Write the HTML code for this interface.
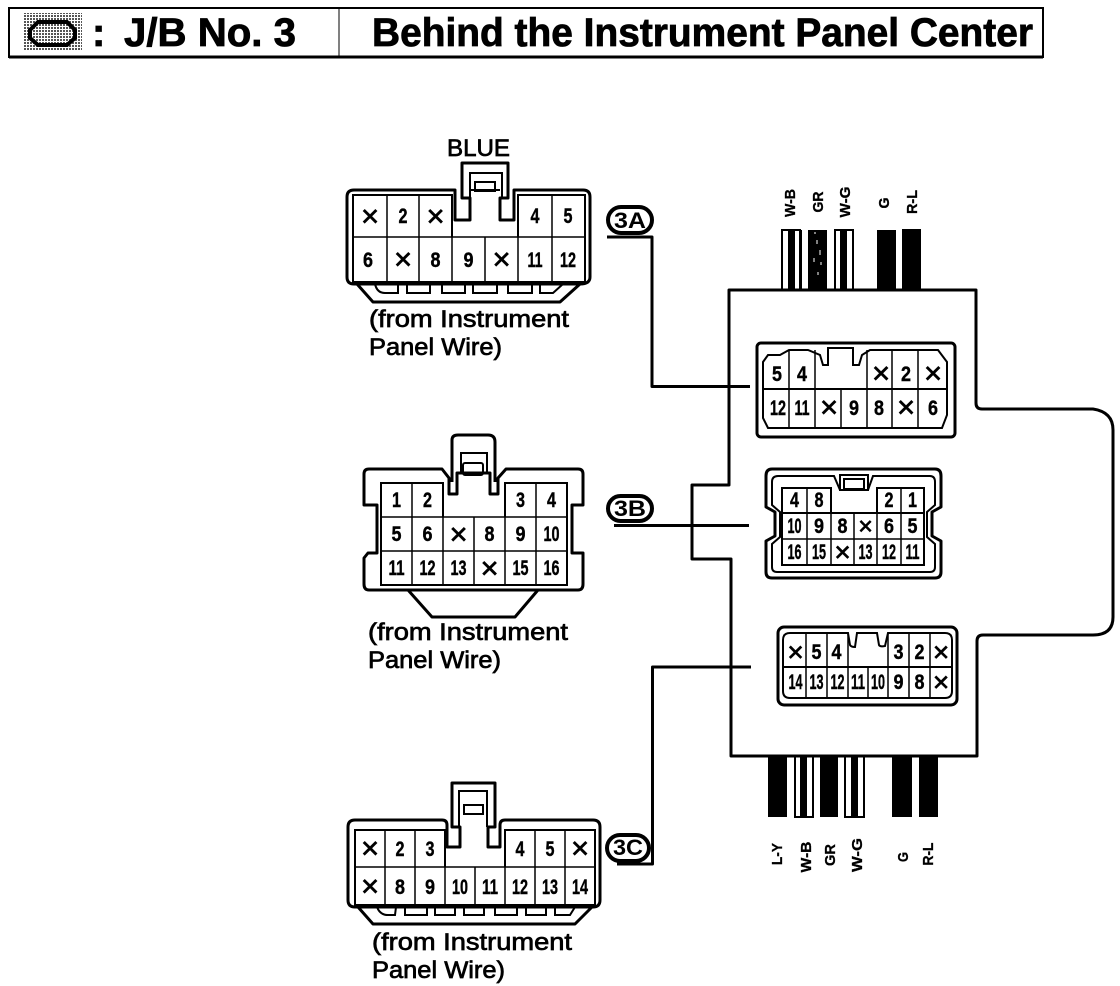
<!DOCTYPE html>
<html><head><meta charset="utf-8"><title>J/B No. 3</title>
<style>
html,body{margin:0;padding:0;background:#fff}
svg{display:block}
.l{fill:none;stroke:#000;stroke-width:3;stroke-linejoin:round}
.m{fill:none;stroke:#000;stroke-width:2}
.t{fill:none;stroke:#000;stroke-width:1.5}
text{font-family:"Liberation Sans",sans-serif;fill:#000}
.d{font-weight:bold;font-size:21px;text-anchor:middle;stroke:#000;stroke-width:.4}
.x{font-size:31px;text-anchor:middle;stroke:#000;stroke-width:.7;transform:translateY(1.500px)}
.c{font-size:24px;stroke:#000;stroke-width:.7}
.o{font-weight:bold;font-size:22px;text-anchor:middle}
.w{font-weight:bold;font-size:15px;text-anchor:middle;stroke:#000;stroke-width:.3}
.h{font-weight:bold;font-size:40px;stroke:#000;stroke-width:.8}
</style></head><body>
<svg width="1120" height="986" viewBox="0 0 1120 986" xmlns="http://www.w3.org/2000/svg">
<defs><pattern id="hat" width="3" height="3" patternUnits="userSpaceOnUse"><rect width="3" height="3" fill="#fff"/><rect width="2" height="2" fill="#555"/></pattern></defs>

<!-- header -->
<rect x="9" y="8" width="1034" height="49" fill="none" stroke="#000" stroke-width="2"/>
<path d="M9 57H1043" stroke="#000" stroke-width="3"/>
<path d="M339 8V57" stroke="#000" stroke-width="1"/>
<rect x="24" y="13" width="58" height="38" fill="url(#hat)"/>
<path d="M38 22H67L75 30V38L67 45H38L30 38V30Z" fill="url(#hat)" stroke="#000" stroke-width="4"/>
<text class="h" x="92" y="46">:</text>
<text class="h" x="124" y="46" textLength="172" lengthAdjust="spacingAndGlyphs">J/B No. 3</text>
<text class="h" x="372" y="46" textLength="661" lengthAdjust="spacingAndGlyphs">Behind the Instrument Panel Center</text>

<!-- 3A connector -->
<text class="c" x="447" y="156" textLength="63" lengthAdjust="spacingAndGlyphs">BLUE</text>
<path class="l" d="M455 220V190H354Q347 190 347 197V277Q347 284 354 284H580Q590 284 590 277V197Q590 190 583 190H514V220H500V198H508V163H462V198H470V220Z"/>
<path class="m" d="M470 198V173H502V198"/>
<rect class="m" x="475" y="182" width="20" height="9"/>
<path class="m" d="M470 190H500"/>
<path class="l" d="M357 284L373 302H560L580 284"/>
<path class="m" d="M375 284Q377 293 385 293H398V284M407 284V293H430V284M442 284V293H465V284M473 284V293H497V284M508 284V293H532V284M540 284V293H553L563 284"/>
<path class="m" d="M353 237V195H452V237M518 237V195H585V237M353 237V282H585V237"/>
<path class="t" d="M353 237H585M387 195V282M419 195V282M452 237V282M485 237V282M518 237V282M552 195V282"/>
<text class="x" x="370" y="225">×</text><text class="d" x="403" y="223" textLength="9" lengthAdjust="spacingAndGlyphs">2</text><text class="x" x="435.500" y="225">×</text><text class="d" x="535" y="223" textLength="9" lengthAdjust="spacingAndGlyphs">4</text><text class="d" x="568" y="223" textLength="9" lengthAdjust="spacingAndGlyphs">5</text>
<text class="d" x="368" y="267" textLength="10" lengthAdjust="spacingAndGlyphs">6</text><text class="x" x="403" y="268">×</text><text class="d" x="435.500" y="267" textLength="10" lengthAdjust="spacingAndGlyphs">8</text><text class="d" x="468.500" y="267" textLength="10" lengthAdjust="spacingAndGlyphs">9</text><text class="x" x="501.500" y="268">×</text><text class="d" x="535" y="267" textLength="15" lengthAdjust="spacingAndGlyphs">11</text><text class="d" x="568" y="267" textLength="16" lengthAdjust="spacingAndGlyphs">12</text>
<text class="c" x="369" y="327" textLength="200" lengthAdjust="spacingAndGlyphs">(from Instrument</text>
<text class="c" x="369" y="355" textLength="133" lengthAdjust="spacingAndGlyphs">Panel Wire)</text>
<rect x="608" y="207" width="44" height="26" rx="13" fill="none" stroke="#000" stroke-width="4"/>
<text class="o" x="630" y="228" textLength="32" lengthAdjust="spacingAndGlyphs">3A</text>
<path class="l" d="M607 237H652V386.500H750"/>

<!-- 3B connector -->
<path class="l" d="M452 482V440Q452 435 458 435H488Q495 435 495 442V482"/>
<path class="l" d="M364 505V474Q364 469 369 469H442L449 478V494H457V473H490V494H498V478L506 469H578Q583 469 583 474V505H572V553H583V584Q583 590 578 590H369Q364 590 364 584V558L368 553H377V505Z"/>
<path class="m" d="M461 473V453H487V473"/>
<rect class="m" x="463" y="463" width="20" height="12" rx="2"/>
<path class="l" d="M408 590L432 617H515L538 590"/>
<path class="m" d="M381 517V483H443V517M505 517V483H567V517M381 517V585H567V517"/>
<path class="t" d="M381 517H567M381 551H567M412 483V585M443 517V585M474 517V585M505 517V585M536 483V585"/>
<text class="d" x="396.500" y="507" textLength="9" lengthAdjust="spacingAndGlyphs">1</text><text class="d" x="427.500" y="507" textLength="9" lengthAdjust="spacingAndGlyphs">2</text><text class="d" x="520.500" y="507" textLength="9" lengthAdjust="spacingAndGlyphs">3</text><text class="d" x="551.500" y="507" textLength="9" lengthAdjust="spacingAndGlyphs">4</text>
<text class="d" x="396.500" y="541" textLength="10" lengthAdjust="spacingAndGlyphs">5</text><text class="d" x="427.500" y="541" textLength="10" lengthAdjust="spacingAndGlyphs">6</text><text class="x" x="458.500" y="543">×</text><text class="d" x="489.500" y="541" textLength="10" lengthAdjust="spacingAndGlyphs">8</text><text class="d" x="520.500" y="541" textLength="10" lengthAdjust="spacingAndGlyphs">9</text><text class="d" x="551.500" y="541" textLength="16" lengthAdjust="spacingAndGlyphs">10</text>
<text class="d" x="396.500" y="575" textLength="16" lengthAdjust="spacingAndGlyphs">11</text><text class="d" x="427.500" y="575" textLength="16" lengthAdjust="spacingAndGlyphs">12</text><text class="d" x="458.500" y="575" textLength="16" lengthAdjust="spacingAndGlyphs">13</text><text class="x" x="489.500" y="577">×</text><text class="d" x="520.500" y="575" textLength="16" lengthAdjust="spacingAndGlyphs">15</text><text class="d" x="551.500" y="575" textLength="16" lengthAdjust="spacingAndGlyphs">16</text>
<text class="c" x="368" y="640" textLength="200" lengthAdjust="spacingAndGlyphs">(from Instrument</text>
<text class="c" x="368" y="668" textLength="133" lengthAdjust="spacingAndGlyphs">Panel Wire)</text>
<rect x="608" y="496" width="44" height="25" rx="12.500" fill="none" stroke="#000" stroke-width="4"/>
<text class="o" x="630" y="516" textLength="32" lengthAdjust="spacingAndGlyphs">3B</text>
<path class="l" d="M614 525.500H749"/>

<!-- 3C connector -->
<path class="l" d="M447 847V825Q447 820 442 820H355Q348 820 348 827V900Q348 907 355 907H593Q600 907 600 900V827Q600 820 593 820H505Q500 820 500 825V847H488V827H495V783H452V827H460V847Z"/>
<path class="m" d="M459 827V791H487V827"/>
<rect class="m" x="464" y="805" width="19" height="9"/>
<path class="l" d="M358 907L373 924H575L592 907"/>
<path class="m" d="M377 907Q380 915 388 915H395L396 907M405 907V915H427V907M435 907V915H455V907M464 907V915H484V907M495 907V915H517V907M526 907V915H546V907M555 907V915H570L575 907"/>
<path class="m" d="M355 867V830H445V867M505 867V830H595V867M355 867V905H595V867"/>
<path class="t" d="M355 867H595M385 830V905M415 830V905M445 867V905M475 867V905M505 867V905M535 830V905M565 830V905"/>
<text class="x" x="370" y="857">×</text><text class="d" x="400" y="856" textLength="9" lengthAdjust="spacingAndGlyphs">2</text><text class="d" x="430" y="856" textLength="9" lengthAdjust="spacingAndGlyphs">3</text><text class="d" x="520" y="856" textLength="9" lengthAdjust="spacingAndGlyphs">4</text><text class="d" x="550" y="856" textLength="9" lengthAdjust="spacingAndGlyphs">5</text><text class="x" x="580" y="857">×</text>
<text class="x" x="370" y="895">×</text><text class="d" x="400" y="894" textLength="10" lengthAdjust="spacingAndGlyphs">8</text><text class="d" x="430" y="894" textLength="10" lengthAdjust="spacingAndGlyphs">9</text><text class="d" x="460" y="894" textLength="16" lengthAdjust="spacingAndGlyphs">10</text><text class="d" x="490" y="894" textLength="16" lengthAdjust="spacingAndGlyphs">11</text><text class="d" x="520" y="894" textLength="16" lengthAdjust="spacingAndGlyphs">12</text><text class="d" x="550" y="894" textLength="16" lengthAdjust="spacingAndGlyphs">13</text><text class="d" x="580" y="894" textLength="16" lengthAdjust="spacingAndGlyphs">14</text>
<text class="c" x="372" y="950" textLength="200" lengthAdjust="spacingAndGlyphs">(from Instrument</text>
<text class="c" x="372" y="978" textLength="133" lengthAdjust="spacingAndGlyphs">Panel Wire)</text>
<rect x="607" y="835" width="42" height="26" rx="13" fill="none" stroke="#000" stroke-width="4"/>
<text class="o" x="628" y="855" textLength="30" lengthAdjust="spacingAndGlyphs">3C</text>
<path class="l" d="M751 667H652.500V864H617"/>

<!-- top wires -->
<path class="m" d="M782 230H800V290H782Z"/><rect x="788" y="230" width="7" height="60"/><rect x="800" y="230" width="2" height="60"/>
<rect x="808" y="230" width="19" height="60"/>
<path d="M815 232v2M817 240v4M820 250v5M814 258v4M821 262v3M818 272v3" stroke="#fff" stroke-width="1"/>
<path class="m" d="M835 230H853V290H835Z"/><rect x="840" y="230" width="7" height="60"/>
<rect x="877" y="230" width="19" height="60"/>
<rect x="902" y="229" width="19" height="61"/>

<!-- bottom wires -->
<rect x="768" y="756" width="19" height="61"/>
<path class="m" d="M795 756V817H813V756"/><rect x="800" y="756" width="7" height="61"/>
<rect x="820" y="756" width="18" height="61"/>
<path class="m" d="M845 756V817H864V756"/><rect x="851" y="756" width="7" height="61"/>
<rect x="892" y="756" width="20" height="61"/>
<rect x="919" y="756" width="19" height="61"/>

<!-- main box -->
<path d="M729 290H976V403Q976 409 982 409H1093Q1113 412 1113 430V617Q1113 635 1093 635H983Q977 635 977 641V756H731V559H692V485H729Z" fill="#fff" stroke="none"/>
<path class="l" d="M729 485V290H976V403Q976 409 982 409H1093Q1113 412 1113 430V617Q1113 635 1093 635H983Q977 635 977 641V756H731V559H692V485Z"/>
<path class="l" d="M652 386.500H750M614 525.500H749M652.500 667H751"/>

<!-- wire labels -->
<g>
<text class="w" transform="translate(795 203) rotate(-90)" textLength="28" lengthAdjust="spacingAndGlyphs">W-B</text>
<text class="w" transform="translate(823 202) rotate(-90)" textLength="21" lengthAdjust="spacingAndGlyphs">GR</text>
<text class="w" transform="translate(850 202) rotate(-90)" textLength="31" lengthAdjust="spacingAndGlyphs">W-G</text>
<text class="w" transform="translate(889 203) rotate(-90)" textLength="11" lengthAdjust="spacingAndGlyphs">G</text>
<text class="w" transform="translate(917 202) rotate(-90)" textLength="24" lengthAdjust="spacingAndGlyphs">R-L</text>
<text class="w" transform="translate(782 854) rotate(-90)" textLength="22" lengthAdjust="spacingAndGlyphs">L-Y</text>
<text class="w" transform="translate(811 857) rotate(-90)" textLength="31" lengthAdjust="spacingAndGlyphs">W-B</text>
<text class="w" transform="translate(835 855) rotate(-90)" textLength="22" lengthAdjust="spacingAndGlyphs">GR</text>
<text class="w" transform="translate(862 855) rotate(-90)" textLength="34" lengthAdjust="spacingAndGlyphs">W-G</text>
<text class="w" transform="translate(908 857) rotate(-90)" textLength="10" lengthAdjust="spacingAndGlyphs">G</text>
<text class="w" transform="translate(933 854) rotate(-90)" textLength="23" lengthAdjust="spacingAndGlyphs">R-L</text>
</g>

<!-- inner A -->
<rect x="757" y="343" width="198" height="94" rx="4" fill="#fff" stroke="#000" stroke-width="3"/>
<path class="m" d="M763 362L768 355H780L789 350H808L820 355L823 365H828V348H853V365H859L862 355L870 350H938L947 362V415L942 428H768L763 418Z"/>
<path class="m" d="M763 389H947"/>
<path class="t" d="M789 350V428M815 350V428M841 389V428M867 350V428M892 350V428M918 350V428"/>
<text class="d" x="777" y="381" textLength="10" lengthAdjust="spacingAndGlyphs">5</text><text class="d" x="802" y="381" textLength="10" lengthAdjust="spacingAndGlyphs">4</text><text class="x" x="881" y="382">×</text><text class="d" x="906" y="381" textLength="10" lengthAdjust="spacingAndGlyphs">2</text><text class="x" x="933" y="382">×</text>
<text class="d" x="778" y="415" textLength="16" lengthAdjust="spacingAndGlyphs">12</text><text class="d" x="802" y="415" textLength="15" lengthAdjust="spacingAndGlyphs">11</text><text class="x" x="829" y="416">×</text><text class="d" x="854" y="415" textLength="10" lengthAdjust="spacingAndGlyphs">9</text><text class="d" x="879" y="415" textLength="10" lengthAdjust="spacingAndGlyphs">8</text><text class="x" x="906" y="416">×</text><text class="d" x="933" y="415" textLength="10" lengthAdjust="spacingAndGlyphs">6</text>

<!-- inner B -->
<path class="l" fill="#fff" d="M772 469H935Q941 469 941 476V507L932 512V536L941 541V572Q941 578 935 578H772Q766 578 766 572V541L775 536V512L766 507V476Q766 469 772 469Z"/>
<path class="m" d="M778 476H834L840 490H868L873 476H930Q935 476 935 482V505L927 512V537L935 544V567Q935 572 930 572H777Q772 572 772 567V544L780 537V512L772 505V482Q772 476 778 476Z"/>
<rect class="m" x="840" y="475" width="28" height="15"/><rect class="m" x="844" y="479" width="20" height="10"/>
<path class="m" d="M782 513V488H831V513M877 513V488H924V513M782 513V565H924V513M782 513H924"/>
<path class="t" d="M782 539H924M807 488V565M831 513V565M854 513V565M877 513V565M901 488V565"/>
<text class="d" x="794.500" y="507" textLength="9" lengthAdjust="spacingAndGlyphs">4</text><text class="d" x="819" y="507" textLength="9" lengthAdjust="spacingAndGlyphs">8</text><text class="d" x="889" y="507" textLength="9" lengthAdjust="spacingAndGlyphs">2</text><text class="d" x="912.500" y="507" textLength="9" lengthAdjust="spacingAndGlyphs">1</text>
<text class="d" x="794.500" y="533" textLength="14" lengthAdjust="spacingAndGlyphs">10</text><text class="d" x="819" y="533" textLength="10" lengthAdjust="spacingAndGlyphs">9</text><text class="d" x="842.500" y="533" textLength="10" lengthAdjust="spacingAndGlyphs">8</text><text class="x" x="865.500" y="533" style="font-size:25px">×</text><text class="d" x="889" y="533" textLength="10" lengthAdjust="spacingAndGlyphs">6</text><text class="d" x="912.500" y="533" textLength="10" lengthAdjust="spacingAndGlyphs">5</text>
<text class="d" x="794.500" y="559" textLength="14" lengthAdjust="spacingAndGlyphs">16</text><text class="d" x="819" y="559" textLength="14" lengthAdjust="spacingAndGlyphs">15</text><text class="x" x="842.500" y="560" style="font-size:28px">×</text><text class="d" x="865.500" y="559" textLength="14" lengthAdjust="spacingAndGlyphs">13</text><text class="d" x="889" y="559" textLength="14" lengthAdjust="spacingAndGlyphs">12</text><text class="d" x="912.500" y="559" textLength="14" lengthAdjust="spacingAndGlyphs">11</text>

<!-- inner C -->
<rect x="778" y="627" width="179" height="78" rx="6" fill="#fff" stroke="#000" stroke-width="3"/>
<path class="m" d="M790 633H848L850 645Q851 647 855 647L857 633H877L879 645Q880 647 885 646L888 633H945Q952 633 952 640V691Q952 698 945 698H790Q783 698 783 691V640Q783 633 790 633Z"/>
<path class="m" d="M783 667H952"/>
<path class="t" d="M806 633V698M827 633V698M848 633V698M868 667V698M888 633V698M909 633V698M930 633V698"/>
<text class="x" x="795.500" y="660" style="font-size:28px">×</text><text class="d" x="816.500" y="659" textLength="10" lengthAdjust="spacingAndGlyphs">5</text><text class="d" x="836.500" y="659" textLength="10" lengthAdjust="spacingAndGlyphs">4</text><text class="d" x="898.500" y="659" textLength="10" lengthAdjust="spacingAndGlyphs">3</text><text class="d" x="919.500" y="659" textLength="10" lengthAdjust="spacingAndGlyphs">2</text><text class="x" x="941" y="660" style="font-size:28px">×</text>
<text class="d" x="795.500" y="689" textLength="14" lengthAdjust="spacingAndGlyphs">14</text><text class="d" x="816.500" y="689" textLength="14" lengthAdjust="spacingAndGlyphs">13</text><text class="d" x="837.500" y="689" textLength="14" lengthAdjust="spacingAndGlyphs">12</text><text class="d" x="858" y="689" textLength="14" lengthAdjust="spacingAndGlyphs">11</text><text class="d" x="878" y="689" textLength="14" lengthAdjust="spacingAndGlyphs">10</text><text class="d" x="898.500" y="689" textLength="10" lengthAdjust="spacingAndGlyphs">9</text><text class="d" x="919.500" y="689" textLength="10" lengthAdjust="spacingAndGlyphs">8</text><text class="x" x="941" y="690" style="font-size:28px">×</text>
</svg>
</body></html>
